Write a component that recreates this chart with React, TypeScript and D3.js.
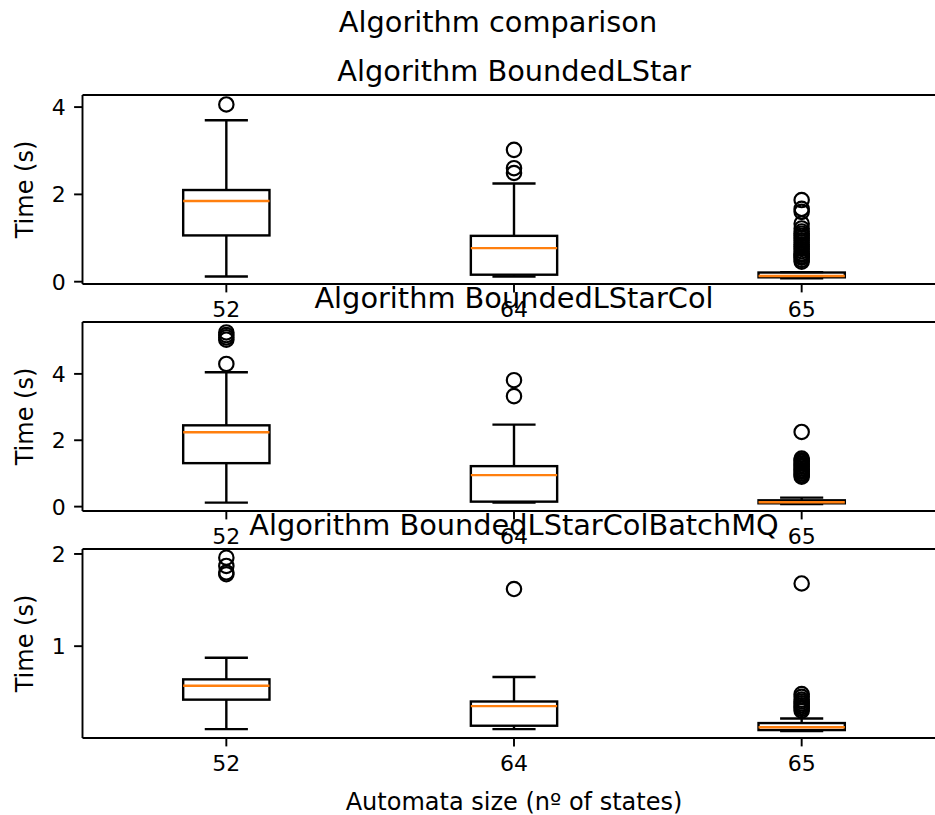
import React, { useEffect, useRef } from 'react';
import * as d3 from 'd3';

// box positions (automata sizes)
const sizes = ['52', '64', '65'];
const algorithms = ['BoundedLStar', 'BoundedLStarCol', 'BoundedLStarColBatchMQ'];

// BoundedLStar
const lstarLow = [0.12, 0.12, 0.08];
const lstarQ1 = [1.06, 0.16, 0.1];
const lstarMedian = [1.85, 0.77, 0.13];
const lstarQ3 = [2.1, 1.05, 0.21];
const lstarHigh = [3.7, 2.25, 0.22];
const lstarOutliers = [
  [4.06],
  [2.49, 2.6, 3.02],
  [1.87, 1.67, 1.6, 1.33, 1.22, 1.15, 1.1, 1.05, 1.0, 0.95, 0.9, 0.85, 0.8, 0.75, 0.7, 0.65, 0.62, 0.58, 0.55, 0.5, 0.46],
];

// BoundedLStarCol
const colLow = [0.12, 0.12, 0.08];
const colQ1 = [1.31, 0.15, 0.1];
const colMedian = [2.24, 0.95, 0.13];
const colQ3 = [2.45, 1.22, 0.19];
const colHigh = [4.05, 2.47, 0.27];
const colOutliers = [
  [4.3, 5.03, 5.1, 5.17, 5.25],
  [3.33, 3.81],
  [2.25, 1.45, 1.4, 1.35, 1.3, 1.25, 1.2, 1.15, 1.1, 1.05, 1.0, 0.95, 0.9],
];

// BoundedLStarColBatchMQ
const batchLow = [0.1, 0.1, 0.08];
const batchQ1 = [0.42, 0.137, 0.09];
const batchMedian = [0.57, 0.35, 0.12];
const batchQ3 = [0.64, 0.4, 0.166];
const batchHigh = [0.875, 0.666, 0.216];
const batchOutliers = [
  [1.96, 1.87, 1.8, 1.78],
  [1.62],
  [1.68, 0.48, 0.45, 0.42, 0.4, 0.38, 0.36, 0.34, 0.32, 0.3],
];

const yDomains = [[-0.053, 4.277], [-0.132, 5.564], [0.004, 2.054]];
const yTicks = [[0, 2, 4], [0, 2, 4], [1, 2]];

const panels = [
  { low: lstarLow, q1: lstarQ1, med: lstarMedian, q3: lstarQ3, high: lstarHigh, out: lstarOutliers },
  { low: colLow, q1: colQ1, med: colMedian, q3: colQ3, high: colHigh, out: colOutliers },
  { low: batchLow, q1: batchQ1, med: batchMedian, q3: batchQ3, high: batchHigh, out: batchOutliers },
];

const W = 935;
const H = 815;
const FONT = 'DejaVu Sans';
const k = 2.4; // px per pt

const App = () => {
  const svgRef = useRef(null);

  useEffect(() => {
    const svg = d3.select(svgRef.current);
    svg.selectAll('*').remove();

    const left = 82.5;
    const right = 945.5;
    const axH = 189;
    const tops = [95, 322, 549];

    const x = d3.scaleLinear().domain([0.5, 3.5]).range([left, right]);
    const boxW = x(1.3) - x(1);
    const capW = x(1.15) - x(1);

    svg.append('text')
      .attr('x', 498).attr('y', 32)
      .attr('text-anchor', 'middle')
      .attr('font-size', 28.8)
      .text('Algorithm comparison');

    panels.forEach((p, i) => {
      const top = tops[i];
      const bottom = top + axH;
      const y = d3.scaleLinear().domain(yDomains[i]).range([bottom, top]);
      const g = svg.append('g');

      // boxes
      sizes.forEach((s, j) => {
        const cx = x(j + 1);
        const bx = g.append('g').attr('stroke', '#000').attr('stroke-width', k).attr('fill', 'none');
        bx.append('line').attr('x1', cx).attr('x2', cx).attr('y1', y(p.q1[j])).attr('y2', y(p.low[j]));
        bx.append('line').attr('x1', cx).attr('x2', cx).attr('y1', y(p.q3[j])).attr('y2', y(p.high[j]));
        bx.append('line').attr('x1', cx - capW / 2).attr('x2', cx + capW / 2).attr('y1', y(p.low[j])).attr('y2', y(p.low[j]));
        bx.append('line').attr('x1', cx - capW / 2).attr('x2', cx + capW / 2).attr('y1', y(p.high[j])).attr('y2', y(p.high[j]));
        bx.append('rect')
          .attr('x', cx - boxW / 2).attr('width', boxW)
          .attr('y', y(p.q3[j])).attr('height', y(p.q1[j]) - y(p.q3[j]));
        g.append('line')
          .attr('x1', cx - boxW / 2).attr('x2', cx + boxW / 2)
          .attr('y1', y(p.med[j])).attr('y2', y(p.med[j]))
          .attr('stroke', '#ff7f0e').attr('stroke-width', k);
        g.selectAll(null).data(p.out[j]).enter().append('circle')
          .attr('cx', cx).attr('cy', d => y(d)).attr('r', 3 * k)
          .attr('fill', 'none').attr('stroke', '#000').attr('stroke-width', 0.9 * k);
      });

      // spines
      const sp = g.append('g').attr('stroke', '#000').attr('stroke-width', 0.8 * k);
      sp.append('line').attr('x1', left).attr('x2', right).attr('y1', top).attr('y2', top);
      sp.append('line').attr('x1', left).attr('x2', right).attr('y1', bottom).attr('y2', bottom);
      sp.append('line').attr('x1', left).attr('x2', left).attr('y1', top).attr('y2', bottom);
      sp.append('line').attr('x1', right).attr('x2', right).attr('y1', top).attr('y2', bottom);

      // y ticks
      yTicks[i].forEach(t => {
        g.append('line').attr('x1', left).attr('x2', left - 3.5 * k).attr('y1', y(t)).attr('y2', y(t))
          .attr('stroke', '#000').attr('stroke-width', 0.8 * k);
        g.append('text').attr('x', left - 7 * k).attr('y', y(t)).attr('dy', '0.36em')
          .attr('text-anchor', 'end').attr('font-size', 22).text(t);
      });

      // x ticks
      sizes.forEach((s, j) => {
        g.append('line').attr('x1', x(j + 1)).attr('x2', x(j + 1)).attr('y1', bottom).attr('y2', bottom + 3.5 * k)
          .attr('stroke', '#000').attr('stroke-width', 0.8 * k);
        g.append('text').attr('x', x(j + 1)).attr('y', bottom + 7 * k + 16)
          .attr('text-anchor', 'middle').attr('font-size', 22).text(s);
      });

      g.append('text')
        .attr('transform', `translate(33,${(top + bottom) / 2}) rotate(-90)`)
        .attr('text-anchor', 'middle').attr('font-size', 24)
        .text('Time (s)');

      g.append('text')
        .attr('x', (left + right) / 2).attr('y', top - 6 * k)
        .attr('text-anchor', 'middle').attr('font-size', 28.8)
        .text(`Algorithm ${algorithms[i]}`);
    });

    svg.append('text')
      .attr('x', (left + right) / 2).attr('y', 810)
      .attr('text-anchor', 'middle').attr('font-size', 24)
      .text('Automata size (nº of states)');
  }, []);

  return (
    <svg ref={svgRef} width={W} height={H}
      style={{ display: 'block', position: 'absolute', left: 0, top: 0, fontFamily: FONT, background: '#fff' }}
    ></svg>
  );
};

export default App;
